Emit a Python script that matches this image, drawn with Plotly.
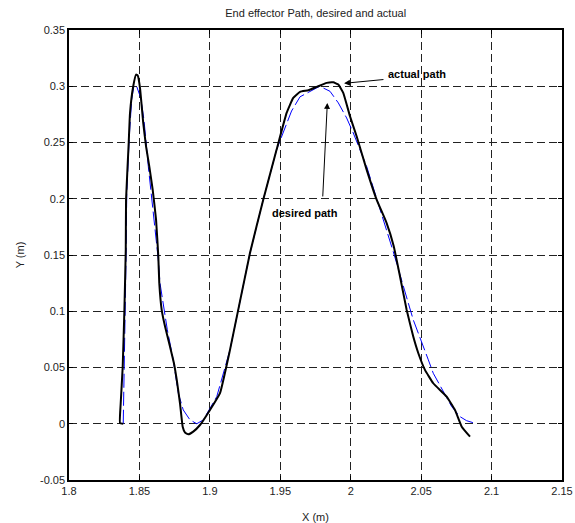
import plotly.graph_objects as go

# Desired path (blue, dashed)
desired_x = [1.8385, 1.8393, 1.8398, 1.8405, 1.8410, 1.8428, 1.8445, 1.8461, 1.8480, 1.8509,
             1.8532, 1.8563, 1.8598, 1.8634, 1.8646, 1.8670, 1.8698, 1.8740, 1.8776, 1.8811,
             1.8859, 1.8907, 1.8953, 1.9049, 1.9143, 1.9284, 1.9379, 1.9474, 1.9580, 1.9640,
             1.9710, 1.9780, 1.9853, 1.9912, 1.9971, 2.0018, 2.0113, 2.0231, 2.0302, 2.0409,
             2.0444, 2.0551, 2.0586, 2.0717, 2.0776, 2.0823, 2.0894]
desired_y = [0.0000, 0.0419, 0.0953, 0.1490, 0.2047, 0.2555, 0.2882, 0.3006, 0.3000, 0.2897,
             0.2704, 0.2288, 0.1903, 0.1458, 0.1250, 0.1072, 0.0835, 0.0568, 0.0272, 0.0123,
             0.0034, 0.0000, 0.0034, 0.0241, 0.0657, 0.1513, 0.1992, 0.2437, 0.2780, 0.2906,
             0.2955, 0.3000, 0.2955, 0.2852, 0.2718, 0.2585, 0.2288, 0.1814, 0.1530, 0.1072,
             0.0924, 0.0568, 0.0449, 0.0152, 0.0063, 0.0027, 0.0000]

# Actual path (black, solid)
actual_x = [1.8385, 1.8362, 1.8367, 1.8381, 1.8393, 1.8403, 1.8405, 1.8424, 1.8433, 1.8456,
            1.8476, 1.8488, 1.8504, 1.8527, 1.8547, 1.8570, 1.8594, 1.8618, 1.8634, 1.8641,
            1.8658, 1.8682, 1.8717, 1.8745, 1.8765, 1.8788, 1.8807, 1.8824, 1.8847, 1.8882,
            1.8930, 1.9001, 1.9072, 1.9143, 1.9284, 1.9379, 1.9474, 1.9545, 1.9592, 1.9640,
            1.9699, 1.9758, 1.9829, 1.9876, 1.9912, 1.9947, 1.9995, 2.0042, 2.0113, 2.0184,
            2.0255, 2.0305, 2.0350, 2.0397, 2.0444, 2.0480, 2.0527, 2.0586, 2.0681,
            2.0740, 2.0788, 2.0847]
actual_y = [0.0000, 0.0005, 0.0180, 0.0500, 0.1000, 0.1550, 0.1990, 0.2500, 0.2760, 0.3000,
            0.3104, 0.3095, 0.2986, 0.2674, 0.2466, 0.2288, 0.2081, 0.1814, 0.1490, 0.1250,
            0.1013, 0.0864, 0.0686, 0.0538, 0.0389, 0.0182, -0.0026, -0.0079, -0.0094, -0.0070,
            -0.0011, 0.0123, 0.0272, 0.0657, 0.1513, 0.1992, 0.2437, 0.2763, 0.2897, 0.2950,
            0.2964, 0.2994, 0.3030, 0.3035, 0.3015, 0.2941, 0.2733, 0.2555, 0.2259, 0.1992,
            0.1784, 0.1580, 0.1309, 0.1013, 0.0775, 0.0627, 0.0479, 0.0360, 0.0241,
            0.0123, -0.0026, -0.0115]

x_ticks = [1.8, 1.85, 1.9, 1.95, 2.0, 2.05, 2.1, 2.15]
x_tick_labels = ["1.8", "1.85", "1.9", "1.95", "2", "2.05", "2.1", "2.15"]
y_ticks = [-0.05, 0, 0.05, 0.1, 0.15, 0.2, 0.25, 0.3, 0.35]
y_tick_labels = ["-0.05", "0", "0.05", "0.1", "0.15", "0.2", "0.25", "0.3", "0.35"]

title_text = "End effector Path, desired and actual"
x_label = "X (m)"
y_label = "Y (m)"

# annotation anchors (data coords)
actual_label = ("actual path", 2.0470, 0.3113)
actual_arrow = (1.9953, 0.3026, 2.0243, 0.3061)   # head x, head y, tail x, tail y
desired_label = ("desired path", 1.9675, 0.1874)
desired_arrow = (1.9834, 0.2852, 1.9801, 0.2007)

FONT = "Liberation Sans, Arial, sans-serif"

fig = go.Figure()
fig.add_trace(go.Scatter(x=desired_x, y=desired_y, mode="lines",
                         line=dict(color="#0000ff", width=1, dash="14px,4px"),
                         showlegend=False))
fig.add_trace(go.Scatter(x=actual_x, y=actual_y, mode="lines",
                         line=dict(color="#000000", width=2, shape="spline", smoothing=0.35),
                         showlegend=False))

for txt, tx, ty in [actual_label, desired_label]:
    fig.add_annotation(x=tx, y=ty, text="<b>%s</b>" % txt, showarrow=False,
                       font=dict(family=FONT, size=11, color="black"))
for hx, hy, tx, ty in [actual_arrow, desired_arrow]:
    fig.add_annotation(x=hx, y=hy, ax=tx, ay=ty, axref="x", ayref="y", text="",
                       showarrow=True, arrowhead=2, arrowsize=1.2, arrowwidth=1,
                       arrowcolor="black")

axis_common = dict(
    showline=True, linecolor="black", linewidth=1.5, mirror="ticks",
    ticks="inside", ticklen=4, tickcolor="black", automargin=False,
    showgrid=True, gridcolor="#222222", gridwidth=1, griddash="8px,4px",
    zeroline=False, tickfont=dict(family=FONT, size=11, color="#222"),
)
fig.update_xaxes(range=[1.8, 2.15], tickvals=x_ticks, ticktext=x_tick_labels,
                 title=dict(text=x_label, font=dict(family=FONT, size=11, color="#222"), standoff=17),
                 **axis_common)
fig.update_yaxes(range=[-0.05, 0.35], tickvals=y_ticks, ticktext=y_tick_labels,
                 title=dict(text=y_label, font=dict(family=FONT, size=11, color="#222"), standoff=13),
                 **axis_common)

fig.update_layout(
    width=575, height=523,
    margin=dict(l=69, r=13, t=30, b=43),
    paper_bgcolor="white", plot_bgcolor="white",
    title=dict(text=title_text, x=0.549, xanchor="center", y=0.975, yanchor="middle",
               font=dict(family=FONT, size=11, color="#222")),
)
fig.write_html("out.html")
